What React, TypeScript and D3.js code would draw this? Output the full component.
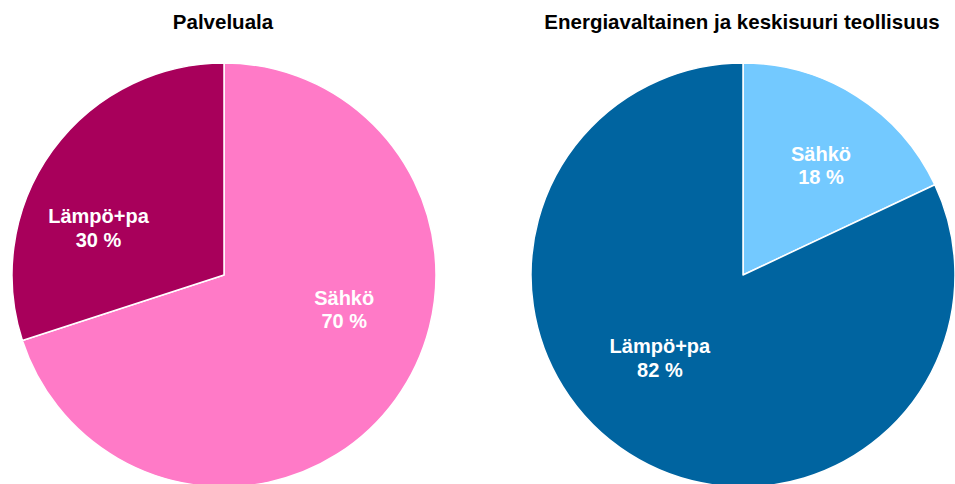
import React from "react";
import * as d3 from "d3";

const titles = ["Palveluala", "Energiavaltainen ja keskisuuri teollisuus"];
const categories = ["Sähkö", "Lämpö+pa"];
const palvelualaValues = [70, 30];
const teollisuusValues = [18, 82];
const palvelualaColors = ["#FF7AC7", "#A8005B"];
const teollisuusColors = ["#73C9FF", "#0064A0"];

// label layout: first-line baseline offsets relative to center, in units of radius
const palvelualaLabelPos = [[0.567, 0.141], [-0.592, -0.244]];
const teollisuusLabelPos = [[0.368, -0.538], [-0.392, 0.368]];

const W = 955;
const H = 484;
const R = 212;
const FONT = "'Liberation Sans', Arial, sans-serif";

function Pie({ cx, cy, title, values, colors, labelPos }: any) {
  const pie = d3.pie<number>().sort(null).value((d) => d);
  const arcs = pie(values);
  const arc = d3.arc<d3.PieArcDatum<number>>().innerRadius(0).outerRadius(R);
  return (
    <g>
      <text x={cx - 1} y={29} textAnchor="middle" fontFamily={FONT} fontWeight="bold" fontSize={20.5} fill="#000">
        {title}
      </text>
      <g transform={`translate(${cx},${cy})`}>
        {arcs.map((a, i) => (
          <path key={i} d={arc(a) || ""} fill={colors[i]} stroke="#fff" strokeWidth={1.5} strokeLinejoin="round" />
        ))}
        {arcs.map((a, i) => {
          const [fx, fy] = labelPos[i];
          const x = fx * R;
          const y = fy * R;
          return (
            <text key={"l" + i} x={x} y={y} textAnchor="middle" fontFamily={FONT} fontWeight="bold" fontSize={20} fill="#fff">
              <tspan x={x} y={y}>{categories[i]}</tspan>
              <tspan x={x} y={y + 23.5}>{`${values[i]} %`}</tspan>
            </text>
          );
        })}
      </g>
    </g>
  );
}

export default function App() {
  return (
    <svg width={W} height={H} style={{ position: "absolute", left: 0, top: 0, background: "#fff" }}>
      <rect width={W} height={H} fill="#fff" />
      <Pie cx={224} cy={275} title={titles[0]} values={palvelualaValues} colors={palvelualaColors} labelPos={palvelualaLabelPos} />
      <Pie cx={743} cy={275} title={titles[1]} values={teollisuusValues} colors={teollisuusColors} labelPos={teollisuusLabelPos} />
    </svg>
  );
}
